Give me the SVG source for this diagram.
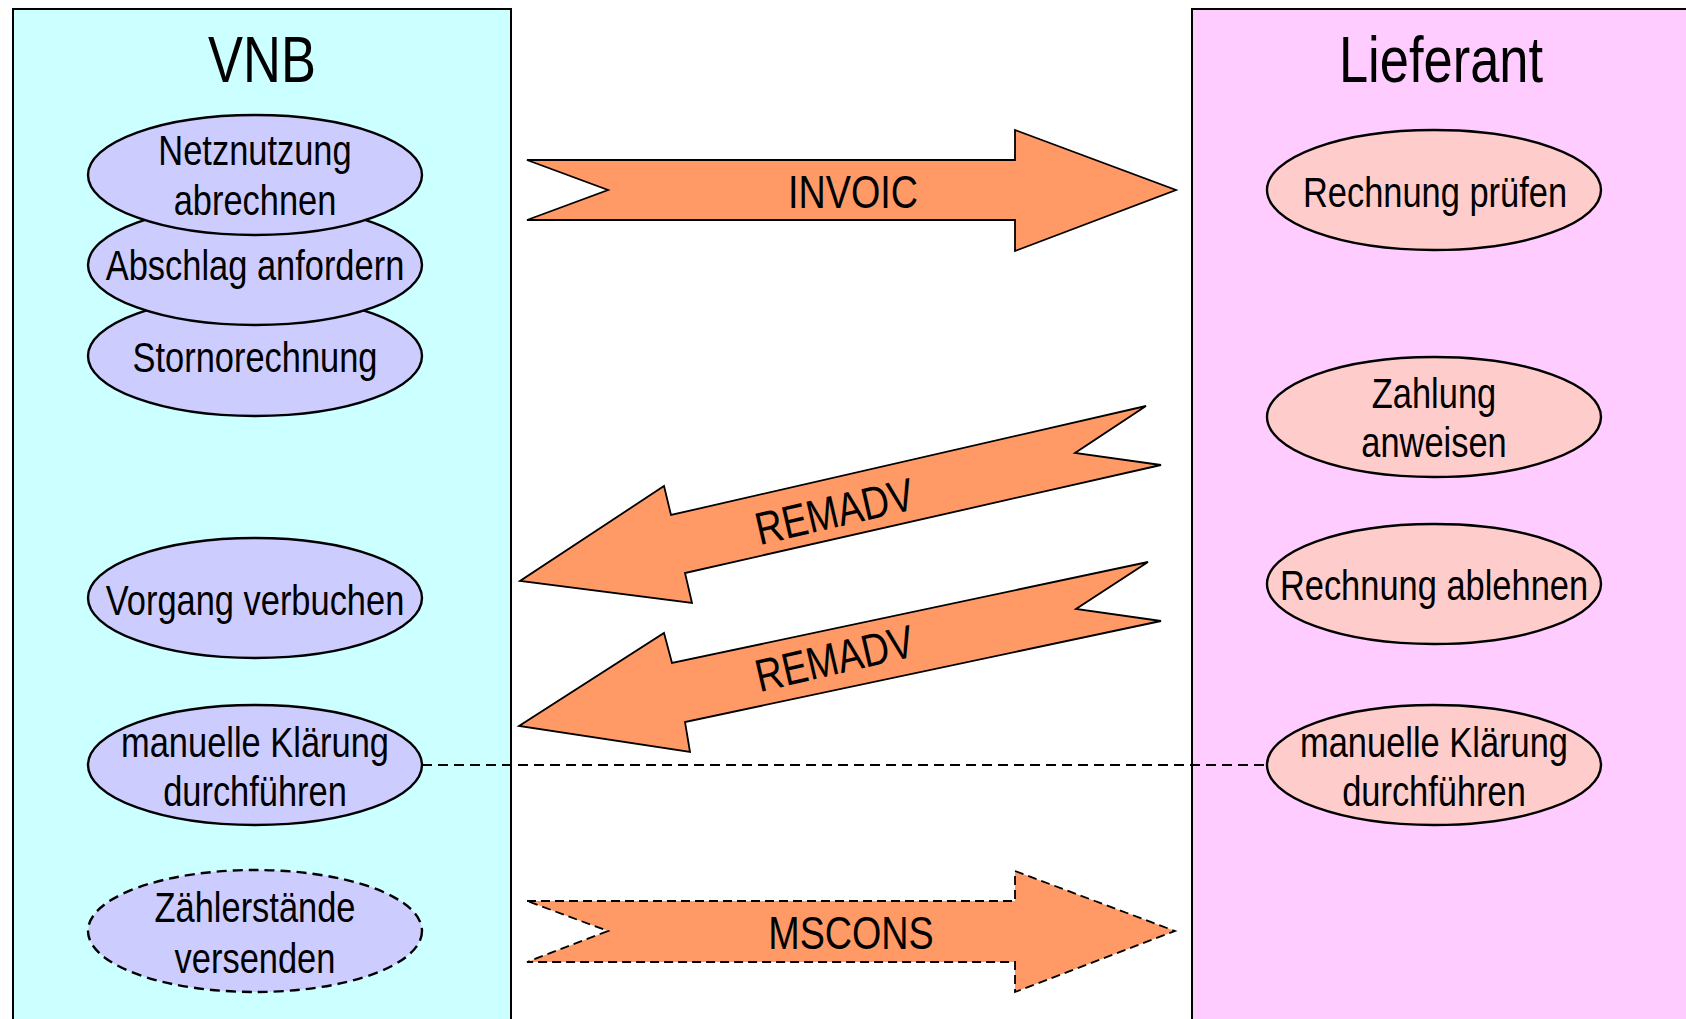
<svg xmlns="http://www.w3.org/2000/svg" width="1686" height="1019" viewBox="0 0 1686 1019">
<style>
text{font-family:"Liberation Sans","Arial",sans-serif;fill:#000;text-anchor:middle}
.title{font-size:64px}
.lbl{font-size:42px}
.msg{font-size:46px}
.panel{stroke:#000;stroke-width:2}
.vnb{fill:#CCCCFF;stroke:#000;stroke-width:2.4}
.lf{fill:#FFCCCC;stroke:#000;stroke-width:2.4}
.arrow{fill:#FF9966;stroke:#000;stroke-width:1.8;stroke-linejoin:miter}
.dash{stroke-dasharray:9 5}
</style>
<rect width="1686" height="1019" fill="#fff"/>
<g id="panel-vnb">
<rect class="panel" x="13" y="9" width="498" height="1025" fill="#CCFFFF"/>
<text class="title" transform="translate(262,82) scale(0.82,1)">VNB</text>
</g>
<g id="panel-lieferant">
<rect class="panel" x="1192" y="9" width="510" height="1025" fill="#FFCCFF"/>
<text class="title" transform="translate(1441,82) scale(0.82,1)">Lieferant</text>
</g>
<g id="node-storno">
<ellipse class="vnb" cx="255" cy="356" rx="167" ry="60"/>
<text class="lbl" transform="translate(255,372) scale(0.82,1)">Stornorechnung</text>
</g>
<g id="node-abschlag">
<ellipse class="vnb" cx="255" cy="265" rx="167" ry="60"/>
<text class="lbl" transform="translate(255,280) scale(0.82,1)">Abschlag anfordern</text>
</g>
<g id="node-netznutzung">
<ellipse class="vnb" cx="255" cy="175" rx="167" ry="60"/>
<text class="lbl" transform="translate(255,165) scale(0.82,1)">Netznutzung</text>
<text class="lbl" transform="translate(255,215) scale(0.82,1)">abrechnen</text>
</g>
<g id="node-vorgang">
<ellipse class="vnb" cx="255" cy="598" rx="167" ry="60"/>
<text class="lbl" transform="translate(255,615) scale(0.82,1)">Vorgang verbuchen</text>
</g>
<g id="node-klaerung-vnb">
<ellipse class="vnb" cx="255" cy="765" rx="167" ry="60"/>
<text class="lbl" transform="translate(255,757) scale(0.82,1)">manuelle Klärung</text>
<text class="lbl" transform="translate(255,806) scale(0.82,1)">durchführen</text>
</g>
<g id="node-zaehler">
<ellipse class="vnb" cx="255" cy="931" rx="167" ry="61" style="stroke-dasharray:10 6"/>
<text class="lbl" transform="translate(255,922) scale(0.82,1)">Zählerstände</text>
<text class="lbl" transform="translate(255,973) scale(0.82,1)">versenden</text>
</g>
<g id="node-pruefen">
<ellipse class="lf" cx="1434" cy="190" rx="167" ry="60"/>
<text class="lbl" transform="translate(1435,207) scale(0.82,1)">Rechnung prüfen</text>
</g>
<g id="node-zahlung">
<ellipse class="lf" cx="1434" cy="417" rx="167" ry="60"/>
<text class="lbl" transform="translate(1434,408) scale(0.82,1)">Zahlung</text>
<text class="lbl" transform="translate(1434,457) scale(0.82,1)">anweisen</text>
</g>
<g id="node-ablehnen">
<ellipse class="lf" cx="1434" cy="584" rx="167" ry="60"/>
<text class="lbl" transform="translate(1434,600) scale(0.82,1)">Rechnung ablehnen</text>
</g>
<g id="node-klaerung-lf">
<ellipse class="lf" cx="1434" cy="765" rx="167" ry="60"/>
<text class="lbl" transform="translate(1434,757) scale(0.82,1)">manuelle Klärung</text>
<text class="lbl" transform="translate(1434,806) scale(0.82,1)">durchführen</text>
</g>
<g id="connectors">
<line x1="422" y1="765" x2="1267" y2="765" stroke="#000" stroke-width="2" stroke-dasharray="10 6"/>
<g id="msg-invoic">
<polygon class="arrow" points="527,160 1015,160 1015,130 1176,190 1015,251 1015,220 527,220 608,190"/>
<text class="msg" transform="translate(853,208) scale(0.82,1)">INVOIC</text>
</g>
<g id="msg-remadv-1">
<polygon class="arrow" points="1146,406 1075,453 1161,465 685,573 692,603 520,581 664,486 671,515"/>
<text class="msg" transform="translate(838,527) rotate(-13) scale(0.82,1)">REMADV</text>
</g>
<g id="msg-remadv-2">
<polygon class="arrow" points="1148,562 1076,609 1161,621 685,722 690,752 519,726 664,633 672,663"/>
<text class="msg" transform="translate(838,674) rotate(-13) scale(0.82,1)">REMADV</text>
</g>
<g id="msg-mscons">
<polygon class="arrow dash" points="527,901 1015,901 1015,871 1175,931 1015,992 1015,962 527,962 608,931"/>
<text class="msg" transform="translate(851,949) scale(0.82,1)">MSCONS</text>
</g>
</g>
</svg>
